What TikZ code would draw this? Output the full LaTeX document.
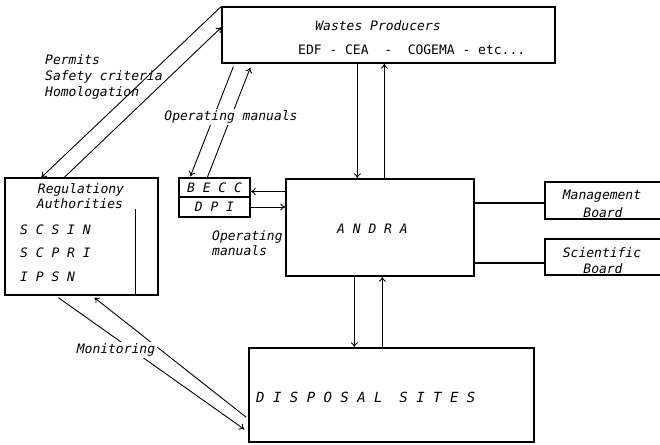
\documentclass[tikz,border=0pt]{standalone}
\usepackage{fontspec}
\newfontfamily\hand{DejaVu Sans Mono}
\usetikzlibrary{arrows.meta,calc}
\begin{document}
\begin{tikzpicture}[x=1pt,y=-1pt,
  box/.style={draw,line width=1.3pt,inner sep=0pt},
  lbl/.style={font=\hand\itshape\fontsize{13}{15}\selectfont,inner sep=0pt},
  bigl/.style={font=\hand\itshape\fontsize{14}{16}\selectfont,inner sep=0pt},
  upl/.style={font=\hand\fontsize{13}{15}\selectfont,inner sep=0pt},
  arr/.style={line width=0.9pt,-{To[length=5pt,width=7pt]}},
  link/.style={line width=1.3pt},
  ]
\useasboundingbox (0,0) rectangle (660,444);
\clip (0,0) rectangle (660,444);
% boxes
\node[box,minimum width=333pt,minimum height=56pt] (wp) at (388.5,35) {};
\node[box,minimum width=153pt,minimum height=117pt] (reg) at (81.5,236.5) {};
\node[box,lbl,minimum width=71pt,minimum height=19pt] (becc) at (214.5,187.5) {B E C C};
\node[box,lbl,minimum width=71pt,minimum height=20pt] (dpi) at (214.5,207) {D P I};
\node[box,minimum width=188pt,minimum height=97pt] (andra) at (380,227.5) {};
\node[box,minimum width=135pt,minimum height=37pt] (mb) at (612.5,200.5) {};
\node[box,minimum width=135pt,minimum height=36pt] (sb) at (612.5,257) {};
\node[box,minimum width=285pt,minimum height=94pt] (ds) at (391.5,395) {};
% texts
\node[lbl] (wpt) at (378,26) {Wastes Producers};
\node[upl,anchor=west] (wpl) at (298,50) {EDF\ -\ CEA\ \ -\ \ COGEMA\ -\ etc...};
\node[lbl] (regt1) at (81,190) {Regulationy};
\node[lbl] (regt2) at (80,204) {Authorities};
\node[lbl,anchor=west] (s1) at (20,230) {S C S I N};
\node[lbl,anchor=west] (s2) at (20,253) {S C P R I};
\node[lbl,anchor=west] (s3) at (20,277) {I P S N};
\node[lbl,anchor=west] (andt) at (337,229) {A N D R A};
\node[bigl,anchor=west] (dst) at (256,397) {D I S P O S A L\ \ S I T E S};
\node[lbl] (mbt1) at (602,196) {Management};
\node[lbl] (mbt2) at (603,213) {Board};
\node[lbl] (sbt1) at (602,253) {Scientific};
\node[lbl] (sbt2) at (603,269) {Board};
\node[lbl,align=left,anchor=north west] (perm) at (45,54) {Permits\\[1pt]Safety criteria\\[1pt]Homologation};
\node[lbl,align=left,anchor=north west] (om2) at (212,230) {Operating\\manuals};
% connectors
\draw[link] ($(reg.south east)+(-23,0)$) -- ++(0,-87);
\draw[arr] (wp.north west) -- ($(reg.north west)+(37,0)$);
\draw[arr] ($(reg.north west)+(60,0)$) -- ($(wp.north west)+(0,21)$);
\draw[arr] ($(wp.south west)+(12,3)$) -- ($(becc.north west)+(12,-1)$);
\draw[arr] ($(becc.north west)+(29,0)$) -- ($(wp.south west)+(29,4)$);
\draw[arr] ($(wp.south west)+(136,0)$) -- ($(andra.north west)+(72,0)$);
\draw[arr] ($(andra.north west)+(99,0)$) -- ($(wp.south west)+(163,0)$);
\coordinate (be) at ($(becc.east)+(0,4)$);
\draw[arr] (andra.west |- be) -- (be);
\draw[arr] (dpi.east) -- (andra.west |- dpi.east);
\draw[arr] ($(andra.south west)+(69,0)$) -- ($(ds.north west)+(106,0)$);
\draw[arr] ($(ds.north west)+(134,0)$) -- ($(andra.south west)+(97,0)$);
\draw[arr] ($(reg.south west)+(54,2)$) -- ($(ds.north west)+(-4,82)$);
\draw[arr] ($(ds.north west)+(-2,70)$) -- ($(reg.south west)+(90,2)$);
\coordinate (mbw) at ($(mb.west)+(0,2.5)$);
\draw[link] (andra.east |- mbw) -- (mbw);
\coordinate (sbw) at ($(sb.west)+(0,6)$);
\draw[link] (andra.east |- sbw) -- (sbw);
% labels that break lines
\node[lbl,fill=white,inner sep=2pt] (om1) at (231,117) {Operating manuals};
\node[lbl,fill=white,inner sep=2pt] (mon) at (116,350) {Monitoring};
\end{tikzpicture}
\end{document}
